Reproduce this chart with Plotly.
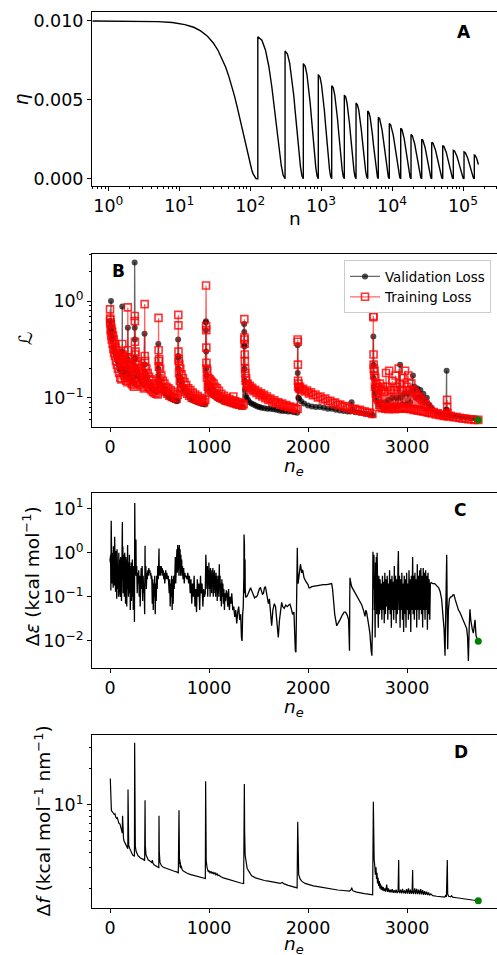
import plotly.graph_objects as go

# ---------------- Panel A : learning-rate schedule ----------------
a_first_n = [0.6, 1, 2, 3, 5, 8, 12, 16, 20, 25, 30, 35, 40, 45, 50, 55, 60, 65, 70, 75,
             80, 85, 90, 95, 100, 105, 110, 115, 120, 124, 128]
a_first_eta = [0.01, 0.009998, 0.009994, 0.009986, 0.00996, 0.0099, 0.00977, 0.0096, 0.00937,
               0.00903, 0.00862, 0.00816, 0.00764, 0.00708, 0.00649, 0.00588, 0.00525, 0.00462,
               0.00399, 0.00338, 0.0028, 0.00225, 0.00174, 0.00129, 0.0009, 0.00057, 0.00031,
               0.00013, 0.000026, 0.0, 0.0]
a_restart_n = [128, 310, 561, 912, 1409, 2123, 3103, 4536, 6398, 9143, 13240, 18490, 26180,
               36210, 51760, 72970, 103300, 144300]
a_peak = [0.0090, 0.0081, 0.0073, 0.0066, 0.0059, 0.0053, 0.0048, 0.0043, 0.0039, 0.0035,
          0.0032, 0.0028, 0.0025, 0.0023, 0.0021, 0.0018, 0.0017]
a_cycle_pos = [0, 0.1, 0.2, 0.3, 0.4, 0.5, 0.6, 0.7, 0.8, 0.9, 1.0]
a_cycle_rel = [1, 0.976, 0.905, 0.794, 0.655, 0.5, 0.345, 0.206, 0.095, 0.024, 0]
a_last_n = [144300, 148000, 152000, 156000, 160000, 164400]
a_last_eta = [0.0015, 0.00148, 0.0014, 0.00128, 0.00111, 0.0009]

# ---------------- Panel B : losses ----------------
b_train = [
    (0, 0.82), (1, 0.66), (2, 0.60), (4, 0.64), (6, 0.50), (9, 0.58), (12, 0.44), (15, 0.52), (18, 0.40),
    (22, 0.48), (26, 0.36), (30, 0.44), (34, 0.32), (38, 0.40), (42, 0.29), (46, 0.36), (50, 0.27),
    (55, 0.33), (60, 0.24), (65, 0.31), (70, 0.22), (75, 0.29), (80, 0.20), (86, 0.27), (92, 0.18),
    (98, 0.26), (104, 0.16), (110, 0.25), (116, 0.155), (122, 0.23),
    (125, 0.36), (127, 0.28), (130, 0.22), (135, 0.27), (140, 0.17), (146, 0.25), (152, 0.16), (158, 0.23),
    (164, 0.15), (170, 0.22), (176, 0.145),
    (180, 0.86), (181, 0.31), (182, 0.26), (185, 0.21), (190, 0.25), (195, 0.16), (200, 0.22), (206, 0.15),
    (212, 0.21), (218, 0.14), (224, 0.2), (230, 0.135), (236, 0.19), (242, 0.13), (247, 0.18),
    (250, 0.70), (251, 0.62), (252, 0.38), (253, 0.28), (255, 0.23), (258, 0.3), (262, 0.19), (268, 0.24),
    (274, 0.16), (280, 0.22), (287, 0.145), (294, 0.2), (301, 0.14), (308, 0.19), (315, 0.135), (322, 0.18),
    (329, 0.13), (336, 0.175), (343, 0.125), (348, 0.165),
    (350, 0.93), (351, 0.27), (352, 0.21), (355, 0.24), (360, 0.16), (367, 0.2), (374, 0.14), (381, 0.18),
    (388, 0.13), (395, 0.165), (402, 0.125), (410, 0.155), (418, 0.12), (426, 0.15), (434, 0.115),
    (442, 0.14), (450, 0.112), (458, 0.135), (466, 0.11), (474, 0.13), (482, 0.108), (488, 0.125),
    (490, 0.67), (491, 0.31), (492, 0.24), (494, 0.21), (497, 0.25), (500, 0.16), (506, 0.2), (512, 0.14),
    (519, 0.17), (526, 0.125), (534, 0.15), (542, 0.12), (550, 0.14), (560, 0.115), (570, 0.13), (580, 0.11),
    (590, 0.125), (600, 0.105), (612, 0.12), (624, 0.102), (636, 0.115), (648, 0.1), (660, 0.11),
    (672, 0.098), (684, 0.107),
    (690, 0.72), (691, 0.56), (692, 0.3), (693, 0.24), (695, 0.25), (697, 0.18), (700, 0.22), (705, 0.15),
    (710, 0.2), (716, 0.14), (722, 0.175), (729, 0.125), (736, 0.16), (744, 0.12), (752, 0.145),
    (760, 0.115), (770, 0.135), (780, 0.11), (790, 0.125), (800, 0.105), (812, 0.12), (824, 0.1),
    (836, 0.113), (848, 0.098), (860, 0.108), (872, 0.096), (885, 0.104), (898, 0.094), (911, 0.1),
    (924, 0.092), (937, 0.097), (950, 0.09), (962, 0.095),
    (970, 1.45), (971, 0.55), (972, 0.5), (973, 0.33), (974, 0.23), (976, 0.2), (979, 0.16), (983, 0.19),
    (988, 0.13), (994, 0.16), (1000, 0.125), (1006, 0.155), (1012, 0.12), (1018, 0.15), (1024, 0.115),
    (1030, 0.145), (1038, 0.112), (1046, 0.14), (1054, 0.11), (1062, 0.13), (1070, 0.107), (1080, 0.125),
    (1090, 0.104), (1100, 0.118), (1112, 0.1), (1124, 0.11), (1136, 0.097), (1150, 0.105), (1164, 0.094),
    (1178, 0.1), (1192, 0.092), (1206, 0.097), (1220, 0.09), (1234, 0.094), (1246, 0.103), (1252, 0.088),
    (1266, 0.092), (1280, 0.086), (1294, 0.09), (1308, 0.085), (1322, 0.088), (1336, 0.083), (1350, 0.086),
    (1357, 0.65), (1358, 0.42), (1359, 0.4), (1360, 0.36), (1361, 0.28), (1362, 0.24), (1364, 0.2),
    (1367, 0.18), (1370, 0.15), (1375, 0.16), (1382, 0.135), (1390, 0.14), (1400, 0.128), (1412, 0.133),
    (1424, 0.122), (1436, 0.127), (1450, 0.117), (1465, 0.121), (1480, 0.112), (1495, 0.116),
    (1510, 0.107), (1525, 0.111), (1540, 0.103), (1555, 0.107), (1570, 0.099), (1585, 0.103),
    (1600, 0.095), (1620, 0.098), (1640, 0.091), (1660, 0.094), (1680, 0.088), (1700, 0.09),
    (1720, 0.085), (1740, 0.087), (1760, 0.082), (1780, 0.084), (1800, 0.08), (1820, 0.081),
    (1840, 0.078), (1860, 0.079), (1880, 0.076), (1895, 0.077),
    (1896, 0.4), (1897, 0.38), (1898, 0.22), (1899, 0.15), (1901, 0.13), (1904, 0.14), (1910, 0.125),
    (1920, 0.13), (1935, 0.12), (1950, 0.124), (1970, 0.116), (1990, 0.119), (2010, 0.111), (2030, 0.114),
    (2050, 0.106), (2075, 0.108), (2100, 0.101), (2125, 0.103), (2150, 0.096), (2175, 0.098),
    (2200, 0.092), (2225, 0.093), (2250, 0.088), (2275, 0.089), (2300, 0.084), (2325, 0.085),
    (2350, 0.081), (2375, 0.082), (2400, 0.078), (2425, 0.079), (2450, 0.076), (2475, 0.077),
    (2500, 0.074), (2525, 0.075), (2550, 0.072), (2575, 0.072), (2600, 0.07), (2625, 0.07), (2650, 0.068),
    (2660, 0.70), (2661, 0.68), (2662, 0.28), (2663, 0.22), (2665, 0.2), (2668, 0.17), (2672, 0.19),
    (2676, 0.13), (2680, 0.16), (2685, 0.11), (2690, 0.14), (2696, 0.1), (2702, 0.13), (2708, 0.095),
    (2714, 0.125), (2720, 0.085), (2726, 0.14), (2732, 0.08), (2740, 0.12), (2748, 0.078), (2756, 0.13),
    (2764, 0.08), (2772, 0.115), (2780, 0.077), (2788, 0.18), (2796, 0.08), (2804, 0.13), (2812, 0.076),
    (2820, 0.19), (2828, 0.08), (2836, 0.12), (2844, 0.077), (2852, 0.15), (2860, 0.079), (2868, 0.12),
    (2876, 0.076), (2884, 0.17), (2892, 0.08), (2900, 0.13), (2908, 0.077), (2916, 0.2), (2924, 0.08),
    (2932, 0.14), (2940, 0.077), (2948, 0.12), (2956, 0.078), (2964, 0.16), (2972, 0.08), (2980, 0.19),
    (2988, 0.077), (2996, 0.13), (3004, 0.078), (3012, 0.17), (3020, 0.077), (3028, 0.12), (3036, 0.076),
    (3044, 0.14), (3052, 0.077), (3060, 0.12), (3068, 0.075), (3076, 0.115), (3084, 0.076), (3092, 0.11),
    (3100, 0.074), (3110, 0.105), (3120, 0.074), (3130, 0.1), (3140, 0.073), (3150, 0.095), (3160, 0.072),
    (3170, 0.09), (3180, 0.072), (3190, 0.085), (3200, 0.071), (3210, 0.08), (3220, 0.07), (3235, 0.075),
    (3250, 0.069), (3270, 0.071), (3290, 0.067), (3310, 0.069), (3330, 0.066), (3350, 0.067),
    (3370, 0.065), (3390, 0.066), (3400, 0.065), (3405, 0.095), (3406, 0.08), (3408, 0.07), (3420, 0.064),
    (3440, 0.065), (3470, 0.063), (3500, 0.063), (3530, 0.062), (3560, 0.061), (3590, 0.061),
    (3620, 0.06), (3650, 0.06), (3680, 0.059), (3720, 0.059),
]
b_val = [
    (0, 0.62), (3, 0.5), (8, 0.55), (10, 1.0), (11, 0.45), (15, 0.5), (20, 0.4), (28, 0.42), (35, 0.33),
    (45, 0.3), (55, 0.28), (65, 0.26), (75, 0.24), (85, 0.22), (95, 0.2), (105, 0.19), (115, 0.18),
    (122, 0.2), (124, 0.88), (125, 0.3), (130, 0.2), (140, 0.19), (150, 0.17), (160, 0.18), (170, 0.16),
    (178, 0.17), (180, 0.53), (181, 0.25), (185, 0.2), (195, 0.18), (205, 0.17), (215, 0.16), (225, 0.15),
    (235, 0.16), (245, 0.14), (249, 2.5), (250, 0.53), (251, 0.4), (252, 0.26), (253, 0.25), (255, 0.21),
    (265, 0.19), (280, 0.17), (295, 0.16), (310, 0.15), (325, 0.14), (340, 0.14), (349, 0.46), (350, 0.22),
    (352, 0.18), (365, 0.16), (380, 0.15), (395, 0.14), (410, 0.13), (425, 0.125), (440, 0.12),
    (455, 0.118), (470, 0.115), (488, 0.36), (489, 0.2), (492, 0.17), (500, 0.15), (515, 0.135),
    (530, 0.125), (545, 0.118), (560, 0.112), (575, 0.107), (590, 0.103), (605, 0.1), (620, 0.098),
    (635, 0.096), (650, 0.094), (665, 0.093), (675, 0.095), (680, 0.092), (688, 0.4), (689, 0.27),
    (690, 0.26), (691, 0.2), (693, 0.17), (700, 0.16), (710, 0.15), (725, 0.135), (740, 0.125),
    (760, 0.115), (780, 0.108), (800, 0.102), (820, 0.097), (840, 0.094), (860, 0.092), (880, 0.09),
    (900, 0.089), (920, 0.087), (940, 0.086), (960, 0.085), (968, 0.6), (969, 0.62), (970, 0.5),
    (971, 0.3), (972, 0.2), (975, 0.17), (985, 0.14), (1000, 0.125), (1020, 0.115), (1040, 0.108),
    (1060, 0.103), (1080, 0.099), (1100, 0.096), (1130, 0.093), (1160, 0.09), (1190, 0.088),
    (1220, 0.086), (1250, 0.084), (1280, 0.082), (1310, 0.081), (1340, 0.08), (1355, 0.58), (1356, 0.48),
    (1357, 0.35), (1358, 0.34), (1359, 0.2), (1361, 0.15), (1365, 0.12), (1372, 0.105), (1380, 0.1),
    (1395, 0.095), (1410, 0.09), (1430, 0.087), (1450, 0.085), (1470, 0.083), (1490, 0.081), (1510, 0.08),
    (1530, 0.079), (1560, 0.078), (1590, 0.077), (1620, 0.077), (1650, 0.076), (1680, 0.075),
    (1710, 0.074), (1740, 0.073), (1770, 0.073), (1800, 0.072), (1830, 0.072), (1860, 0.071),
    (1890, 0.07), (1895, 0.35), (1896, 0.18), (1898, 0.12), (1902, 0.1), (1910, 0.098), (1930, 0.092),
    (1960, 0.087), (2000, 0.083), (2040, 0.081), (2080, 0.08), (2120, 0.08), (2160, 0.079), (2200, 0.077),
    (2240, 0.077), (2280, 0.075), (2320, 0.074), (2360, 0.073), (2400, 0.072), (2430, 0.072),
    (2440, 0.09), (2450, 0.075), (2480, 0.071), (2520, 0.07), (2560, 0.069), (2600, 0.068), (2640, 0.067),
    (2655, 0.066), (2660, 0.43), (2661, 0.22), (2663, 0.16), (2667, 0.13), (2675, 0.11), (2690, 0.095),
    (2710, 0.085), (2730, 0.09), (2750, 0.08), (2770, 0.09), (2790, 0.078), (2810, 0.095), (2830, 0.08),
    (2850, 0.1), (2870, 0.08), (2890, 0.1), (2910, 0.082), (2930, 0.22), (2931, 0.1), (2950, 0.085),
    (2970, 0.11), (2990, 0.085), (3010, 0.11), (3030, 0.09), (3050, 0.12), (3060, 0.17), (3061, 0.12),
    (3075, 0.13), (3090, 0.1), (3105, 0.125), (3120, 0.1), (3135, 0.12), (3150, 0.095), (3165, 0.11),
    (3180, 0.09), (3200, 0.1), (3220, 0.085), (3240, 0.08), (3260, 0.075), (3290, 0.071), (3320, 0.069),
    (3350, 0.068), (3380, 0.067), (3395, 0.075), (3400, 0.19), (3401, 0.075), (3420, 0.066),
    (3460, 0.065), (3500, 0.064), (3550, 0.063), (3600, 0.062), (3650, 0.061), (3700, 0.06), (3720, 0.059),
]

# ---------------- Panel C : energy error ----------------
c_err = [
    (0, 0.75), (3, 0.6), (6, 0.9), (9, 0.14), (12, 5.3), (14, 0.3), (17, 1.2), (20, 0.2), (23, 1.0),
    (26, 0.25), (29, 0.8), (32, 0.16), (35, 1.4), (38, 0.3), (41, 0.9), (44, 0.18), (47, 2.3), (50, 0.25),
    (53, 0.7), (56, 0.13), (59, 1.1), (62, 0.2), (65, 0.6), (68, 0.09), (71, 1.2), (74, 0.3), (77, 0.8),
    (80, 0.15), (83, 0.5), (86, 0.1), (89, 1.0), (92, 0.25), (95, 0.7), (98, 0.14), (101, 0.45), (104, 0.1),
    (107, 0.8), (110, 0.2), (113, 0.4), (116, 0.08), (119, 0.6), (122, 0.18), (125, 5.0), (127, 0.25),
    (130, 1.4), (133, 0.12), (136, 0.9), (139, 0.3), (142, 0.6), (145, 0.1), (148, 1.0), (151, 0.2),
    (154, 0.5), (157, 0.07), (160, 0.8), (163, 0.3), (166, 0.45), (169, 0.06), (172, 0.7), (175, 0.2),
    (178, 1.5), (181, 0.15), (184, 0.6), (187, 0.1), (190, 0.45), (193, 0.2), (196, 0.9), (199, 0.12),
    (202, 0.5), (205, 0.05), (208, 0.3), (211, 0.15), (214, 0.6), (217, 0.08), (220, 0.4), (223, 0.18),
    (226, 0.7), (229, 0.1), (232, 0.35), (235, 0.05), (238, 0.5), (241, 0.2), (244, 0.3), (247, 0.027),
    (250, 13.5), (252, 0.2), (255, 0.3), (258, 1.0), (262, 2.0), (265, 0.3), (270, 0.5), (275, 0.12),
    (280, 0.35), (285, 0.2), (290, 0.4), (295, 0.1), (300, 0.3), (305, 0.06), (310, 0.25), (315, 0.45),
    (320, 0.15), (325, 0.5), (330, 0.08), (335, 0.3), (340, 0.12), (345, 0.2), (350, 0.04), (354, 1.45),
    (357, 0.2), (362, 0.5), (367, 0.15), (372, 0.35), (377, 0.25), (382, 0.4), (387, 0.3), (392, 0.45),
    (397, 0.35), (402, 0.4), (407, 0.3), (412, 0.35), (417, 0.25), (422, 0.3), (427, 0.07), (432, 0.25),
    (437, 0.05), (442, 0.2), (447, 0.1), (452, 0.3), (457, 0.04), (462, 0.2), (467, 0.08), (472, 0.3),
    (477, 0.15), (482, 0.5), (487, 0.25), (492, 0.6), (495, 1.25), (498, 0.3), (503, 0.5), (508, 0.4),
    (513, 0.3), (518, 0.5), (523, 0.35), (528, 0.45), (533, 0.3), (538, 0.4), (543, 0.25), (548, 0.35),
    (553, 0.2), (558, 0.3), (563, 0.4), (568, 0.25), (573, 0.35), (578, 0.3), (583, 0.25), (588, 0.3),
    (593, 0.2), (598, 0.12), (603, 0.25), (608, 0.06), (613, 0.2), (618, 0.1), (623, 0.3), (628, 0.05),
    (633, 0.25), (638, 0.07), (643, 0.3), (648, 0.15), (655, 0.3), (660, 0.8), (664, 0.2), (668, 1.0),
    (672, 0.3), (676, 1.2), (680, 0.35), (684, 1.5), (688, 0.4), (692, 1.3), (696, 0.3), (700, 1.5),
    (704, 0.45), (708, 1.2), (712, 0.3), (716, 0.9), (720, 0.35), (724, 0.7), (728, 0.3), (732, 0.5),
    (738, 0.25), (744, 0.45), (750, 0.2), (756, 0.35), (762, 0.28), (770, 0.3), (778, 0.25), (786, 0.35),
    (794, 0.2), (802, 0.3), (810, 0.12), (818, 0.25), (826, 0.07), (834, 0.2), (842, 0.1), (850, 0.3),
    (858, 0.06), (866, 0.15), (874, 0.045), (882, 0.25), (890, 0.1), (898, 0.2), (906, 0.05), (914, 0.3),
    (922, 0.12), (930, 0.2), (938, 0.06), (946, 0.15), (954, 0.1), (962, 0.12), (968, 0.9), (971, 0.2),
    (975, 0.7), (979, 0.15), (983, 0.5), (987, 0.1), (991, 0.4), (995, 0.2), (999, 0.6), (1003, 0.15),
    (1007, 0.4), (1011, 0.1), (1015, 0.45), (1019, 0.15), (1023, 0.35), (1027, 0.12), (1031, 0.4),
    (1035, 0.2), (1039, 0.45), (1043, 0.1), (1047, 0.35), (1051, 0.15), (1055, 0.4), (1059, 0.12),
    (1063, 0.3), (1067, 0.1), (1071, 0.35), (1075, 0.15), (1079, 0.3), (1083, 0.08), (1087, 0.25),
    (1091, 0.12), (1095, 0.3), (1099, 0.1), (1104, 0.55), (1108, 0.15), (1112, 0.3), (1116, 0.08),
    (1120, 0.2), (1125, 0.06), (1130, 0.25), (1135, 0.1), (1140, 0.2), (1145, 0.07), (1150, 0.15),
    (1156, 0.05), (1162, 0.12), (1168, 0.08), (1175, 0.14), (1182, 0.12), (1190, 0.06), (1198, 0.15),
    (1206, 0.05), (1214, 0.1), (1222, 0.07), (1230, 0.12), (1240, 0.05), (1250, 0.06), (1260, 0.035),
    (1270, 0.05), (1280, 0.025), (1290, 0.045), (1300, 0.06), (1310, 0.03), (1320, 0.04), (1328, 0.012),
    (1334, 0.01), (1340, 0.04), (1346, 0.06), (1352, 0.3), (1354, 2.6), (1356, 0.5), (1358, 1.5),
    (1360, 0.12), (1364, 0.7), (1366, 0.15), (1370, 0.1), (1380, 0.1), (1390, 0.11), (1400, 0.13),
    (1410, 0.15), (1420, 0.16), (1430, 0.14), (1440, 0.12), (1450, 0.1), (1460, 0.095), (1470, 0.1),
    (1480, 0.1), (1490, 0.11), (1500, 0.13), (1510, 0.155), (1520, 0.16), (1530, 0.14), (1540, 0.115),
    (1550, 0.12), (1560, 0.16), (1570, 0.17), (1580, 0.13), (1590, 0.1), (1600, 0.07), (1610, 0.09),
    (1620, 0.05), (1633, 0.022), (1645, 0.05), (1660, 0.07), (1672, 0.06), (1685, 0.03), (1700, 0.012),
    (1712, 0.03), (1725, 0.06), (1734, 0.075), (1745, 0.06), (1760, 0.055), (1775, 0.065), (1790, 0.06),
    (1805, 0.065), (1818, 0.068), (1830, 0.055), (1845, 0.04), (1858, 0.045), (1866, 0.01), (1872, 0.006),
    (1878, 0.0055), (1884, 0.03), (1888, 0.06), (1892, 1.3), (1895, 0.4), (1900, 0.2), (1905, 0.25),
    (1912, 0.35), (1918, 0.5), (1924, 0.55), (1930, 0.45), (1936, 0.35), (1946, 0.41), (1960, 0.27),
    (1975, 0.23), (1987, 0.21), (2000, 0.19), (2010, 0.16), (2020, 0.16), (2037, 0.17), (2060, 0.175),
    (2090, 0.18), (2120, 0.185), (2155, 0.19), (2190, 0.19), (2220, 0.2), (2239, 0.2), (2248, 0.15),
    (2256, 0.087), (2270, 0.04), (2290, 0.022), (2305, 0.025), (2323, 0.03), (2345, 0.038), (2365, 0.045),
    (2380, 0.045), (2397, 0.038), (2410, 0.03), (2415, 0.006), (2419, 0.006), (2422, 0.1), (2424, 0.27),
    (2430, 0.22), (2441, 0.17), (2460, 0.14), (2480, 0.115), (2500, 0.1), (2520, 0.08), (2542, 0.066),
    (2560, 0.05), (2576, 0.036), (2585, 0.05), (2593, 0.044), (2609, 0.026), (2625, 0.015), (2638, 0.006),
    (2645, 0.0046), (2652, 0.03), (2656, 1.05), (2658, 0.15), (2662, 0.2), (2666, 0.9), (2670, 0.05),
    (2674, 0.3), (2678, 0.012), (2682, 0.6), (2686, 0.1), (2690, 0.8), (2694, 0.04), (2698, 1.0),
    (2702, 0.06), (2706, 0.4), (2710, 0.02), (2716, 0.3), (2722, 0.04), (2728, 0.25), (2734, 0.05),
    (2740, 0.2), (2746, 0.03), (2752, 0.3), (2758, 0.05), (2764, 0.22), (2770, 0.025), (2776, 0.35),
    (2782, 0.04), (2788, 0.25), (2794, 0.06), (2800, 0.3), (2806, 0.03), (2812, 0.2), (2818, 0.05),
    (2824, 0.4), (2830, 0.04), (2836, 0.25), (2842, 0.02), (2848, 0.3), (2854, 0.05), (2860, 0.22),
    (2866, 0.03), (2872, 0.5), (2878, 0.05), (2884, 0.3), (2890, 0.025), (2896, 0.25), (2902, 0.04),
    (2908, 0.4), (2913, 1.1), (2918, 0.05), (2924, 0.3), (2930, 0.02), (2936, 0.25), (2942, 0.05),
    (2948, 0.35), (2954, 0.03), (2960, 0.2), (2966, 0.016), (2972, 0.3), (2978, 0.04), (2984, 0.25),
    (2990, 0.02), (2996, 0.35), (3002, 0.05), (3008, 0.2), (3014, 0.03), (3020, 0.4), (3026, 0.04),
    (3032, 0.25), (3038, 0.016), (3044, 0.3), (3050, 0.05), (3057, 0.8), (3062, 0.04), (3068, 0.3),
    (3074, 0.03), (3080, 0.35), (3086, 0.05), (3092, 0.25), (3098, 0.02), (3104, 0.55), (3110, 0.05),
    (3116, 0.3), (3122, 0.03), (3128, 0.4), (3134, 0.05), (3140, 0.45), (3146, 0.04), (3152, 0.3),
    (3158, 0.02), (3164, 0.45), (3170, 0.05), (3176, 0.35), (3182, 0.03), (3188, 0.4), (3194, 0.05),
    (3200, 0.3), (3206, 0.018), (3212, 0.35), (3218, 0.04), (3224, 0.25), (3230, 0.03), (3236, 0.2),
    (3245, 0.21), (3260, 0.2), (3280, 0.2), (3300, 0.18), (3320, 0.16), (3335, 0.13), (3350, 0.087),
    (3362, 0.04), (3374, 0.019), (3384, 0.0046), (3392, 0.03), (3401, 0.9), (3406, 0.05), (3411, 0.0065),
    (3418, 0.05), (3428, 0.09), (3440, 0.1), (3451, 0.1), (3463, 0.11), (3475, 0.11), (3488, 0.085),
    (3502, 0.067), (3520, 0.05), (3535, 0.044), (3552, 0.035), (3569, 0.029), (3586, 0.024), (3603, 0.019),
    (3612, 0.012), (3620, 0.0035), (3628, 0.02), (3636, 0.052), (3644, 0.03), (3650, 0.022), (3660, 0.018),
    (3670, 0.015), (3680, 0.02), (3687, 0.03), (3692, 0.02), (3697, 0.013), (3710, 0.011), (3720, 0.0098),
]

# ---------------- Panel D : force error ----------------
d_err = [
    (3, 16.6), (6, 12), (10, 9.3), (14, 9.0), (20, 8.8), (27, 8.7), (35, 8.5), (42, 8.3), (50, 8.4),
    (58, 7.9), (66, 7.7), (74, 7.8), (82, 7.2), (90, 7.0), (101, 6.9), (110, 6.4), (118, 6.0), (124, 5.8),
    (127, 8.1), (130, 6.0), (136, 5.3), (141, 5.0), (150, 4.8), (162, 4.5), (172, 4.4), (180, 4.3),
    (182, 13.4), (185, 6), (189, 4.6), (200, 4.3), (209, 4.1), (220, 3.9), (229, 3.8), (240, 3.75),
    (247, 3.7), (249, 33), (252, 8), (256, 4.5), (263, 4.1), (273, 3.85), (283, 3.75), (293, 3.7),
    (303, 3.6), (320, 3.55), (337, 3.5), (350, 3.4), (354, 10.9), (357, 4.5), (364, 3.8), (375, 3.6),
    (387, 3.45), (400, 3.4), (410, 3.35), (421, 3.3), (428, 3.45), (434, 3.25), (445, 3.15), (455, 3.1),
    (470, 3.05), (485, 3.0), (493, 2.98), (495, 8.1), (498, 4), (505, 3.3), (520, 3.1), (539, 3.0),
    (560, 2.95), (580, 2.92), (606, 2.88), (630, 2.82), (650, 2.78), (673, 2.75), (690, 2.7), (697, 9.0),
    (699, 4.5), (702, 3.2), (705, 3.5), (708, 3.0), (711, 3.3), (714, 2.95), (718, 3.1), (722, 2.9),
    (730, 2.85), (741, 2.8), (760, 2.72), (780, 2.68), (808, 2.62), (840, 2.58), (875, 2.55), (900, 2.5),
    (930, 2.46), (963, 2.42), (966, 15.7), (969, 5), (972, 3.4), (980, 3.0), (993, 2.75), (1000, 2.8),
    (1010, 2.7), (1020, 2.78), (1030, 2.66), (1040, 2.74), (1050, 2.63), (1060, 2.72), (1070, 2.6),
    (1080, 2.66), (1090, 2.56), (1100, 2.58), (1120, 2.5), (1145, 2.45), (1180, 2.4), (1220, 2.33),
    (1246, 2.3), (1280, 2.26), (1320, 2.22), (1350, 2.2), (1357, 14.9), (1360, 6), (1365, 3.8),
    (1372, 3.3), (1385, 2.95), (1400, 2.8), (1431, 2.55), (1470, 2.45), (1515, 2.38), (1560, 2.33),
    (1600, 2.3), (1650, 2.25), (1684, 2.22), (1720, 2.2), (1740, 2.24), (1760, 2.18), (1800, 2.12),
    (1852, 2.05), (1890, 2.02), (1896, 7.2), (1899, 3.5), (1906, 2.6), (1920, 2.4), (1936, 2.3),
    (1970, 2.2), (2010, 2.14), (2054, 2.1), (2100, 2.07), (2150, 2.03), (2189, 2.0), (2250, 1.97),
    (2300, 1.94), (2357, 1.92), (2420, 1.9), (2435, 1.95), (2441, 2.03), (2450, 1.93), (2458, 1.9),
    (2490, 1.86), (2525, 1.83), (2570, 1.81), (2610, 1.79), (2653, 1.77), (2660, 10.6), (2663, 5),
    (2668, 3.5), (2675, 3.04), (2680, 2.6), (2687, 3.0), (2692, 2.4), (2697, 2.7), (2702, 2.2),
    (2708, 2.45), (2714, 2.1), (2720, 2.3), (2726, 2.0), (2732, 2.2), (2738, 1.95), (2745, 2.1),
    (2752, 1.92), (2760, 2.05), (2768, 1.9), (2776, 2.0), (2784, 1.88), (2795, 2.15), (2803, 1.87),
    (2812, 2.0), (2820, 1.86), (2830, 1.95), (2840, 1.85), (2850, 1.97), (2860, 1.84), (2870, 1.93),
    (2880, 1.84), (2890, 1.95), (2900, 1.83), (2910, 1.9), (2916, 3.46), (2919, 1.9), (2925, 1.83),
    (2935, 1.95), (2945, 1.82), (2955, 1.98), (2965, 1.82), (2975, 1.92), (2985, 1.81), (2995, 1.97),
    (3005, 1.81), (3015, 2.0), (3025, 1.8), (3035, 1.95), (3045, 1.8), (3052, 1.9), (3057, 2.85),
    (3060, 1.85), (3068, 1.8), (3078, 2.0), (3088, 1.79), (3098, 1.98), (3108, 1.79), (3118, 1.95),
    (3128, 1.78), (3138, 1.97), (3148, 1.78), (3158, 1.93), (3168, 1.77), (3178, 1.9), (3188, 1.77),
    (3198, 1.88), (3208, 1.76), (3218, 1.85), (3228, 1.75), (3240, 1.8), (3260, 1.74), (3300, 1.72),
    (3350, 1.7), (3380, 1.69), (3390, 1.74), (3398, 1.7), (3407, 3.45), (3411, 1.8), (3420, 1.72),
    (3440, 1.7), (3450, 1.74), (3460, 1.69), (3500, 1.67), (3535, 1.65), (3580, 1.63), (3620, 1.61),
    (3660, 1.6), (3700, 1.59), (3720, 1.58),
]

# ---------------- build series ----------------
a_n = list(a_first_n)
a_eta = list(a_first_eta)
for k in range(len(a_peak)):
    n0, n1 = a_restart_n[k], a_restart_n[k + 1]
    for p, r in zip(a_cycle_pos, a_cycle_rel):
        a_n.append(n0 + p * (n1 - n0))
        a_eta.append(a_peak[k] * r)
a_n += a_last_n
a_eta += a_last_eta

b_train_epoch, b_train_loss = [list(t) for t in zip(*b_train)]
b_val_epoch, b_val_loss = [list(t) for t in zip(*b_val)]
c_epoch, c_val = [list(t) for t in zip(*c_err)]
d_epoch, d_val = [list(t) for t in zip(*d_err)]

W, H = 497, 955
FONT = "DejaVu Sans"
TICKF = dict(family=FONT, size=17.5, color="black")


def px(x):
    return x / W


def py(y):
    return 1 - y / H


fig = go.Figure()
fig.add_trace(go.Scatter(x=a_n, y=a_eta, mode="lines", line=dict(color="black", width=1.4),
                         showlegend=False, xaxis="x", yaxis="y"))

fig.add_trace(go.Scatter(x=b_val_epoch, y=b_val_loss, mode="lines+markers", name="Validation Loss",
                         line=dict(color="rgba(0,0,0,0.6)", width=1.3),
                         marker=dict(symbol="circle", size=6, color="rgba(0,0,0,0.7)"),
                         xaxis="x2", yaxis="y2"))
fig.add_trace(go.Scatter(x=b_train_epoch, y=b_train_loss, mode="lines+markers", name="Training Loss",
                         line=dict(color="rgba(255,0,0,0.6)", width=1.3),
                         marker=dict(symbol="square-open", size=7, color="rgba(255,0,0,0.8)",
                                     line=dict(width=1.6, color="rgba(255,0,0,0.8)")),
                         xaxis="x2", yaxis="y2"))
fig.add_trace(go.Scatter(x=[b_train_epoch[-1]], y=[b_train_loss[-1]], mode="markers",
                         marker=dict(color="#008000", size=7), showlegend=False, xaxis="x2", yaxis="y2"))

fig.add_trace(go.Scatter(x=c_epoch, y=c_val, mode="lines", line=dict(color="black", width=1.3),
                         showlegend=False, xaxis="x3", yaxis="y3"))
fig.add_trace(go.Scatter(x=[c_epoch[-1]], y=[c_val[-1]], mode="markers",
                         marker=dict(color="#008000", size=7), showlegend=False, xaxis="x3", yaxis="y3"))

fig.add_trace(go.Scatter(x=d_epoch, y=d_val, mode="lines", line=dict(color="black", width=1.2),
                         showlegend=False, xaxis="x4", yaxis="y4"))
fig.add_trace(go.Scatter(x=[d_epoch[-1]], y=[d_val[-1]], mode="markers",
                         marker=dict(color="#008000", size=7), showlegend=False, xaxis="x4", yaxis="y4"))

xdom = [px(92), 1.0]
common_x = dict(domain=xdom, showline=True, linecolor="black", linewidth=1, mirror=True,
                ticks="outside", ticklen=4, tickwidth=1, tickcolor="black", tickfont=TICKF,
                showgrid=False, zeroline=False)
common_y = dict(showline=True, linecolor="black", linewidth=1, mirror=False,
                ticks="outside", ticklen=4, tickwidth=1, tickcolor="black", tickfont=TICKF,
                showgrid=False, zeroline=False)

a_minor = [m * 10 ** e for e in range(-1, 6) for m in range(2, 10)]
a_minor = [v for v in a_minor if 0.59 <= v <= 3.0e5]

ep_ticks = [0, 1000, 2000, 3000]
ep_range = [-181.8, 3909]

layout = dict(
    width=W, height=H, margin=dict(l=0, r=0, t=0, b=0),
    paper_bgcolor="white", plot_bgcolor="white",
    font=dict(family=FONT, color="black"),
    xaxis=dict(common_x, anchor="y", type="log", range=[-0.230, 5.479],
               tickmode="array", tickvals=[1, 10, 100, 1e3, 1e4, 1e5],
               ticktext=["10<sup>0</sup>", "10<sup>1</sup>", "10<sup>2</sup>", "10<sup>3</sup>",
                         "10<sup>4</sup>", "10<sup>5</sup>"],
               minor=dict(tickmode="array", tickvals=a_minor, ticks="outside", ticklen=2,
                          tickcolor="black", showgrid=False)),
    yaxis=dict(common_y, anchor="x", domain=[py(186), py(11)], range=[-0.000486, 0.01057],
               tickmode="array", tickvals=[0, 0.005, 0.01], ticktext=["0.000", "0.005", "0.010"]),
    xaxis2=dict(common_x, anchor="y2", range=ep_range, tickmode="array", tickvals=ep_ticks,
                ticktext=[str(t) for t in ep_ticks]),
    yaxis2=dict(common_y, anchor="x2", domain=[py(427.3), py(253.3)], type="log", range=[-1.302, 0.492],
                tickmode="array", tickvals=[0.1, 1], ticktext=["10<sup>\u22121</sup>", "10<sup>0</sup>"],
                minor=dict(tickmode="array", tickvals=[0.06, 0.07, 0.08, 0.09, 0.2, 0.3, 0.4, 0.5, 0.6,
                                                       0.7, 0.8, 0.9, 2, 3],
                           ticks="outside", ticklen=2, tickcolor="black", showgrid=False)),
    xaxis3=dict(common_x, anchor="y3", range=ep_range, tickmode="array", tickvals=ep_ticks,
                ticktext=[str(t) for t in ep_ticks]),
    yaxis3=dict(common_y, anchor="x3", domain=[py(669), py(494)], type="log", range=[-2.613, 1.346],
                tickmode="array", tickvals=[0.01, 0.1, 1, 10],
                ticktext=["10<sup>\u22122</sup>", "10<sup>\u22121</sup>", "10<sup>0</sup>", "10<sup>1</sup>"]),
    xaxis4=dict(common_x, anchor="y4", range=ep_range, tickmode="array", tickvals=ep_ticks,
                ticktext=[str(t) for t in ep_ticks]),
    yaxis4=dict(common_y, anchor="x4", domain=[py(910), py(736)], type="log", range=[0.136, 1.586],
                tickmode="array", tickvals=[10], ticktext=["10<sup>1</sup>"],
                minor=dict(tickmode="array", tickvals=[2, 3, 4, 5, 6, 7, 8, 9, 20, 30],
                           ticks="outside", ticklen=2, tickcolor="black", showgrid=False)),
    legend=dict(x=px(491), y=py(260), xanchor="right", yanchor="top",
                bgcolor="rgba(255,255,255,0.85)", bordercolor="#cccccc", borderwidth=1,
                font=dict(family=FONT, size=13.4, color="black"), tracegroupgap=2),
)
fig.update_layout(**layout)

TF = dict(family=FONT, size=18.5, color="black")
ann = [
    (295, 218, "n", 0), (21.5, 99, "<i>\u03b7</i>", -90),
    (294, 467, "<i>n</i><sub><i>e</i></sub>", 0), (26, 339, "\u2112", -90),
    (294, 709, "<i>n</i><sub><i>e</i></sub>", 0),
    (31, 577, "\u0394<i>\u03b5</i> (kcal mol<sup>\u22121</sup>)", -90),
    (294, 947, "<i>n</i><sub><i>e</i></sub>", 0),
    (43, 823, "\u0394<i>f</i> (kcal mol<sup>\u22121</sup> nm<sup>\u22121</sup>)", -90),
]
for x, y, t, ang in ann:
    fig.add_annotation(x=px(x), y=py(y), xref="paper", yref="paper", text=t, showarrow=False,
                       textangle=ang, font=TF, xanchor="center", yanchor="middle")

LF = dict(family=FONT, size=17, color="black")
for x, y, t in [(464, 31, "A"), (118, 271, "B"), (460, 511, "C"), (461, 753, "D")]:
    fig.add_annotation(x=px(x), y=py(y), xref="paper", yref="paper", text="<b>%s</b>" % t,
                       showarrow=False, font=LF, xanchor="center", yanchor="middle")

fig.write_html("out.html")
